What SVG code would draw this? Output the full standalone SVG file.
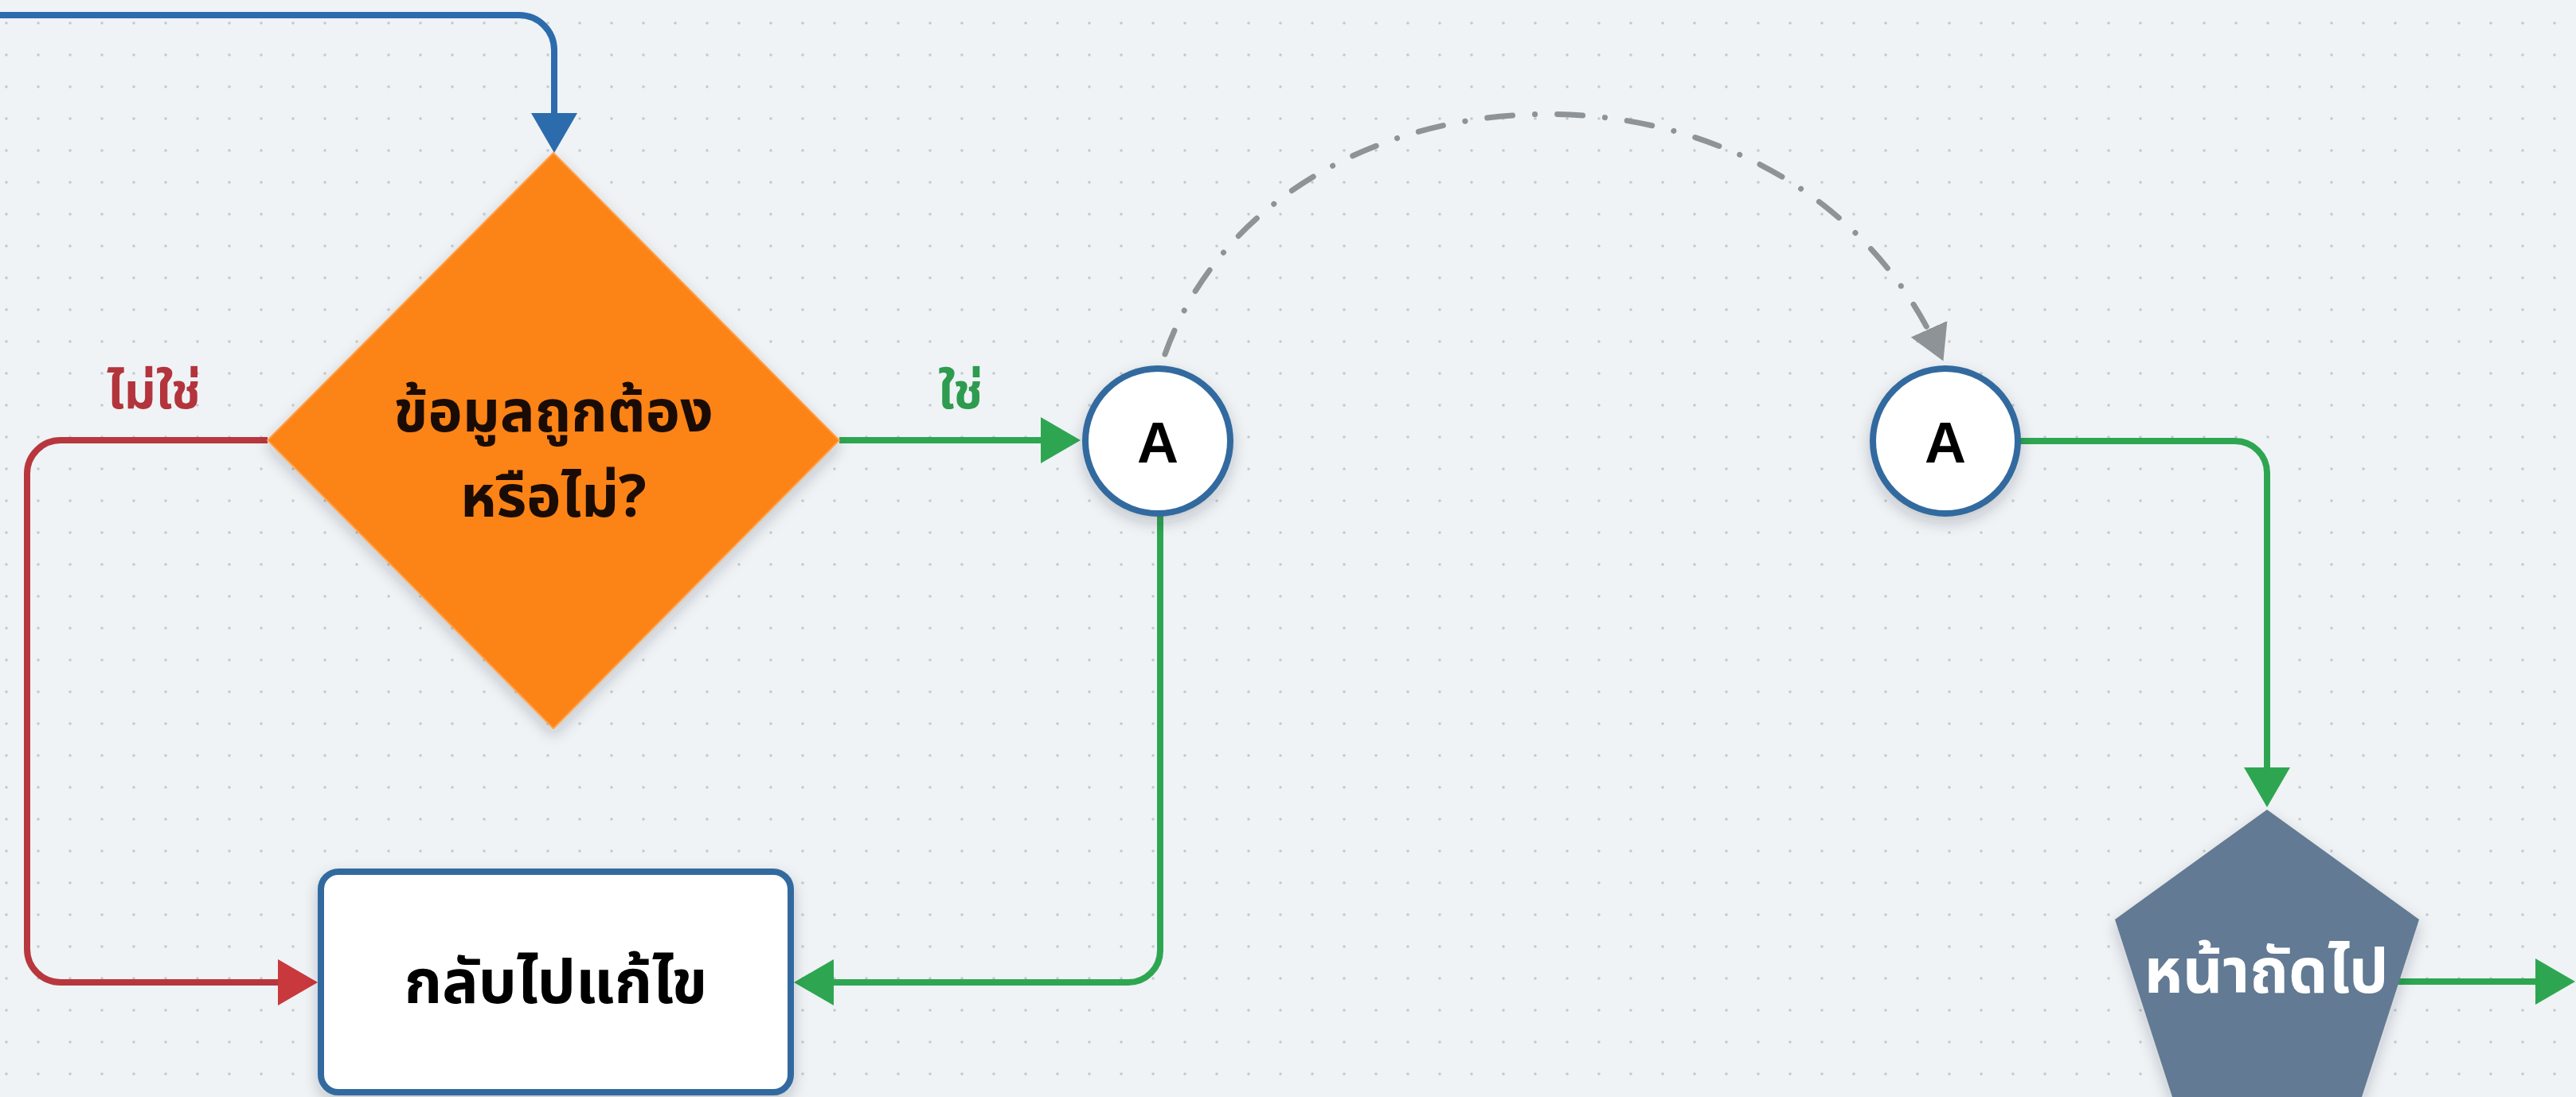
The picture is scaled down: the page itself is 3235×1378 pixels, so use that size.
<svg xmlns="http://www.w3.org/2000/svg" width="3235" height="1378" viewBox="0 0 3235 1378">
<defs>
<style>
.th{font-family:"Noto Sans Thai","Noto Sans","DejaVu Sans",sans-serif;font-weight:700;text-anchor:middle}
.lat{font-family:"Liberation Sans","Roboto",sans-serif;font-weight:700;text-anchor:middle}
.conn{fill:none;stroke-width:8;stroke-linejoin:round}
.blue{stroke:#2c6cad}
.red{stroke:#b8373e}
.green{stroke:#2ea651}
.gray{stroke:#8e9398;stroke-width:7;stroke-linecap:round;stroke-dasharray:32 28 0.1 28}
.node{stroke:#326b9f;stroke-width:8}
</style>
<pattern id="dots" x="0" y="0" width="40" height="40" patternUnits="userSpaceOnUse">
<circle cx="8" cy="29" r="1.8" fill="#c3c9ce"/>
</pattern>
<filter id="sh" x="-20%" y="-20%" width="140%" height="140%">
<feDropShadow dx="0" dy="8" stdDeviation="9" flood-color="#1d2b3a" flood-opacity="0.22"/>
</filter>
<marker id="mBlue" markerUnits="userSpaceOnUse" markerWidth="60" markerHeight="60" refX="40" refY="29" orient="auto" viewBox="0 0 60 60">
<path d="M0,0 L50,29 L0,58 z" fill="#2c6cad"/>
</marker>
<marker id="mRed" markerUnits="userSpaceOnUse" markerWidth="60" markerHeight="60" refX="40" refY="29" orient="auto" viewBox="0 0 60 60">
<path d="M0,0 L50,29 L0,58 z" fill="#c9383d"/>
</marker>
<marker id="mGreen" markerUnits="userSpaceOnUse" markerWidth="60" markerHeight="60" refX="40" refY="29" orient="auto" viewBox="0 0 60 60">
<path d="M0,0 L50,29 L0,58 z" fill="#2ea651"/>
</marker>
<marker id="mGray" markerUnits="userSpaceOnUse" markerWidth="50" markerHeight="52" refX="38" refY="25" orient="auto" viewBox="0 0 50 52">
<path d="M0,0 L44,25 L0,50 z" fill="#8e9398"/>
</marker>
</defs>
<rect width="3235" height="1378" fill="#eff3f5"/>
<rect width="3235" height="1378" fill="url(#dots)"/>

<g id="connectors">
<path class="conn blue" d="M0,19 H652 A44,44 0 0 1 696,63 V182" marker-end="url(#mBlue)"/>
<path class="conn red" d="M336,553 H76 A42,42 0 0 0 34,595 V1192 A42,42 0 0 0 76,1234 H389" marker-end="url(#mRed)"/>
<path class="conn green" d="M1054,553 H1347" marker-end="url(#mGreen)"/>
<path class="conn green" d="M1457,647 V1194 A40,40 0 0 1 1417,1234 H1007" marker-end="url(#mGreen)"/>
<path class="conn gray" d="M1463,445 C1600,60 2250,25 2438,448" marker-end="url(#mGray)"/>
<path class="conn green" d="M2535,554 H2807 A40,40 0 0 1 2847,594 V1004" marker-end="url(#mGreen)"/>
<path class="conn green" d="M2990,1233 H3224" marker-end="url(#mGreen)"/>
</g>

<g id="label-no">
<text class="th" x="193" y="513" font-size="62" fill="#b3343c">ไม่ใช่</text>
</g>
<g id="label-yes">
<text class="th" x="1206" y="513" font-size="62" fill="#2e9b4f">ใช่</text>
</g>

<g id="decision">
<polygon points="695,192 1054,553 695,915 336,553" fill="#fc8316" stroke="#ffa04a" stroke-width="2" filter="url(#sh)"/>
<text class="th" x="695" y="542" font-size="73" fill="#1a0c04">ข้อมูลถูกต้อง</text>
<text class="th" x="695" y="649" font-size="73" fill="#1a0c04">หรือไม่?</text>
</g>

<g id="fix">
<rect x="403" y="1095" width="590" height="277" rx="22" fill="#ffffff" class="node" filter="url(#sh)"/>
<text class="th" x="698" y="1260" font-size="76" fill="#000000">กลับไปแก้ไข</text>
</g>

<g id="connector-a1">
<circle cx="1454" cy="554" r="91" fill="#ffffff" class="node" filter="url(#sh)"/>
<text class="lat" x="1454" y="581" font-size="72" fill="#000000">A</text>
</g>

<g id="connector-a2">
<circle cx="2443" cy="554" r="91" fill="#ffffff" class="node" filter="url(#sh)"/>
<text class="lat" x="2443" y="581" font-size="72" fill="#000000">A</text>
</g>

<g id="next-page">
<polygon points="2847,1017 3038,1155 2965,1381 2729,1381 2656,1155" fill="#627a93" filter="url(#sh)"/>
<text class="th" x="2846" y="1247" font-size="78" fill="#ffffff">หน้าถัดไป</text>
</g>
</svg>
